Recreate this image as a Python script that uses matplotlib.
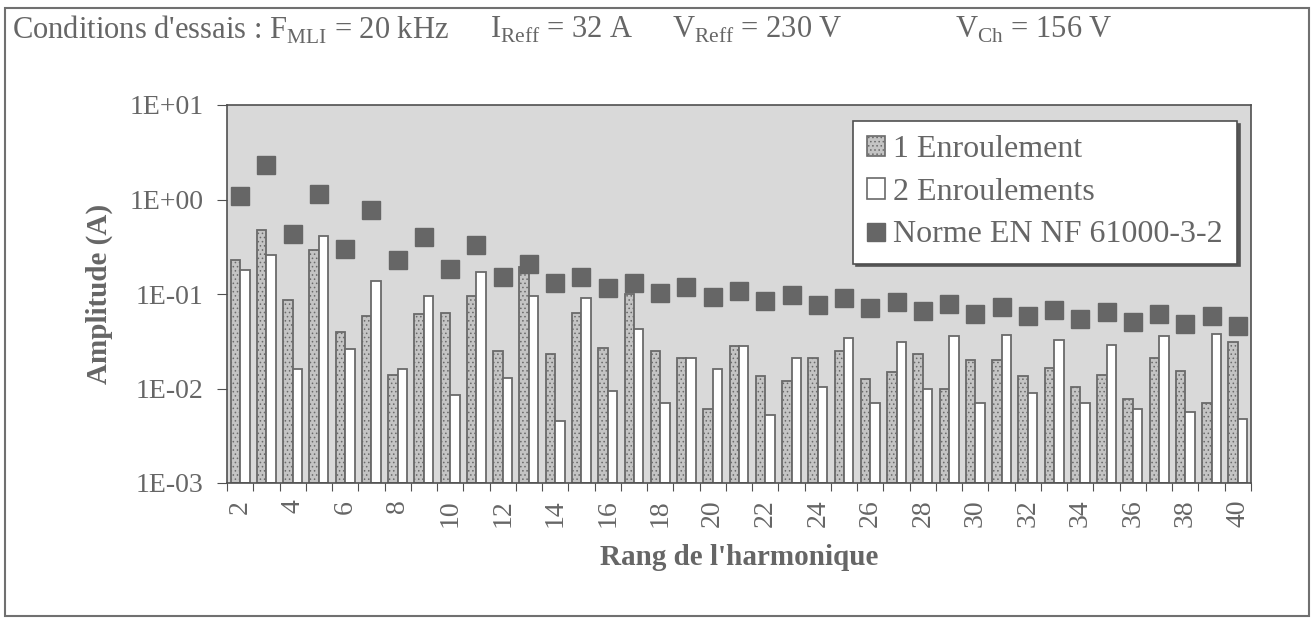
import matplotlib
matplotlib.use("Agg")
import matplotlib.pyplot as plt
from matplotlib.patches import Rectangle, Patch
from matplotlib.lines import Line2D
from matplotlib.ticker import FixedLocator, FuncFormatter, NullFormatter

# Données
rangs = list(range(2, 41))
un_enroulement = [0.23, 0.48, 0.085, 0.29, 0.039, 0.057, 0.013, 0.06, 0.062, 0.095,
                  0.024, 0.19, 0.022, 0.062, 0.026, 0.1, 0.024, 0.02, 0.005, 0.027,
                  0.0125, 0.011, 0.02, 0.024, 0.0115, 0.014, 0.022, 0.009, 0.019, 0.019,
                  0.0125, 0.0155, 0.0093, 0.013, 0.0068, 0.02, 0.0145, 0.006, 0.03]
deux_enroulements = [0.18, 0.26, 0.015, 0.41, 0.025, 0.135, 0.015, 0.095, 0.0075, 0.17,
                     0.012, 0.095, 0.0035, 0.09, 0.0085, 0.042, 0.006, 0.02, 0.015, 0.027,
                     0.0042, 0.02, 0.0093, 0.033, 0.0061, 0.03, 0.009, 0.035, 0.0061, 0.036,
                     0.008, 0.032, 0.0061, 0.028, 0.005, 0.035, 0.0047, 0.037, 0.0037]
norme = [1.08, 2.3, 0.43, 1.14, 0.3, 0.77, 0.23, 0.4, 0.184, 0.33,
         0.153, 0.21, 0.131, 0.15, 0.115, 0.132, 0.102, 0.118, 0.092, 0.107,
         0.084, 0.098, 0.077, 0.09, 0.071, 0.083, 0.066, 0.078, 0.061, 0.073,
         0.058, 0.068, 0.054, 0.064, 0.051, 0.061, 0.048, 0.058, 0.046]

gris = "#505050"
gris_clair = "#666666"
plt.rcParams["font.family"] = ["Liberation Serif", "DejaVu Serif"]
plt.rcParams["mathtext.fontset"] = "custom"
plt.rcParams["mathtext.rm"] = "Liberation Serif"
plt.rcParams["hatch.linewidth"] = 0.6
plt.rcParams["text.color"] = gris

fig = plt.figure(figsize=(13.15, 6.18), dpi=100)
ax = fig.add_axes([227 / 1315, 1 - 483 / 618, 1024 / 1315, 378 / 618])
ax.set_facecolor("#d9d9d9")

x = list(range(len(rangs)))
w = 0.36
ax.bar([i - w / 2 for i in x], un_enroulement, width=w, bottom=1e-3,
       facecolor="#c4c4c4", edgecolor="#6a6a6a", hatch="....", linewidth=1.3, zorder=2)
ax.bar([i + w / 2 for i in x], deux_enroulements, width=w, bottom=1e-3,
       facecolor="white", edgecolor="#6a6a6a", linewidth=1.3, zorder=2)
ax.plot(x, norme, ls="none", marker="s", markersize=13, color="#666666", zorder=3)

ax.set_yscale("log")
ax.set_ylim(1e-3, 10)
ax.set_xlim(-0.5, len(rangs) - 0.5)
ax.yaxis.set_major_locator(FixedLocator([1e-3, 1e-2, 1e-1, 1, 10]))
ax.yaxis.set_minor_locator(FixedLocator([]))
ax.yaxis.set_major_formatter(FuncFormatter(lambda v, p: f"{v:.0E}"))
ax.tick_params(axis="y", labelsize=20, labelcolor=gris_clair, color=gris, length=7, pad=10)

# graduations aux limites de catégories, étiquettes sur les rangs pairs
ax.xaxis.set_major_locator(FixedLocator([i - 0.5 for i in range(len(rangs) + 1)]))
ax.xaxis.set_major_formatter(NullFormatter())
pairs = [i for i, r in enumerate(rangs) if r % 2 == 0]
ax.xaxis.set_minor_locator(FixedLocator(pairs))
ax.xaxis.set_minor_formatter(FuncFormatter(lambda v, p: str(rangs[int(round(v))])))
ax.tick_params(axis="x", which="major", color=gris, length=6)
ax.tick_params(axis="x", which="minor", length=0, labelsize=20, labelcolor=gris_clair,
               labelrotation=90, pad=12)

for s in ax.spines.values():
    s.set_color(gris)
    s.set_linewidth(1.2)

ax.set_ylabel("Amplitude (A)", fontsize=21, fontweight="bold", color=gris_clair, labelpad=12)
ax.set_xlabel("Rang de l'harmonique", fontsize=21, fontweight="bold", color=gris_clair,
              labelpad=12)

handles = [Patch(facecolor="#c4c4c4", edgecolor="#6a6a6a", hatch="....", linewidth=1.2),
           Patch(facecolor="white", edgecolor="#6a6a6a", linewidth=1.2),
           Line2D([], [], ls="none", marker="s", markersize=13, color="#666666")]
leg = ax.legend(handles, ["1 Enroulement", "2 Enroulements", "Norme EN NF 61000-3-2"],
                loc="upper right", bbox_to_anchor=(1237 / 1315, 1 - 121 / 618),
                bbox_transform=fig.transFigure, fontsize=23, frameon=True, fancybox=False,
                shadow={"color": "#555555", "alpha": 1}, handlelength=0.55, handleheight=0.6,
                handletextpad=0.25, labelspacing=0.42, borderpad=0.45, borderaxespad=0,
                labelcolor=gris_clair)
leg.get_frame().set_edgecolor(gris)
leg.get_frame().set_linewidth(1.2)

# titre des conditions d'essais
fs = 22
ty = 1 - 30 / 618
fig.text(12 / 1315, ty, r"Conditions d'essais : F$_{\mathrm{MLI}}$ = 20 kHz", fontsize=fs,
         va="center", color=gris_clair)
fig.text(490 / 1315, ty, r"I$_{\mathrm{Reff}}$ = 32 A", fontsize=fs, va="center", color=gris_clair)
fig.text(672 / 1315, ty, r"V$_{\mathrm{Reff}}$ = 230 V", fontsize=fs, va="center", color=gris_clair)
fig.text(955 / 1315, ty, r"V$_{\mathrm{Ch}}$ = 156 V", fontsize=fs, va="center", color=gris_clair)

fig.patches.append(Rectangle((5 / 1315, 1 - 616 / 618), 1304 / 1315, 608 / 618,
                             transform=fig.transFigure, fill=False, edgecolor="#707070",
                             linewidth=1.5))

fig.savefig("out.png", dpi=100)
